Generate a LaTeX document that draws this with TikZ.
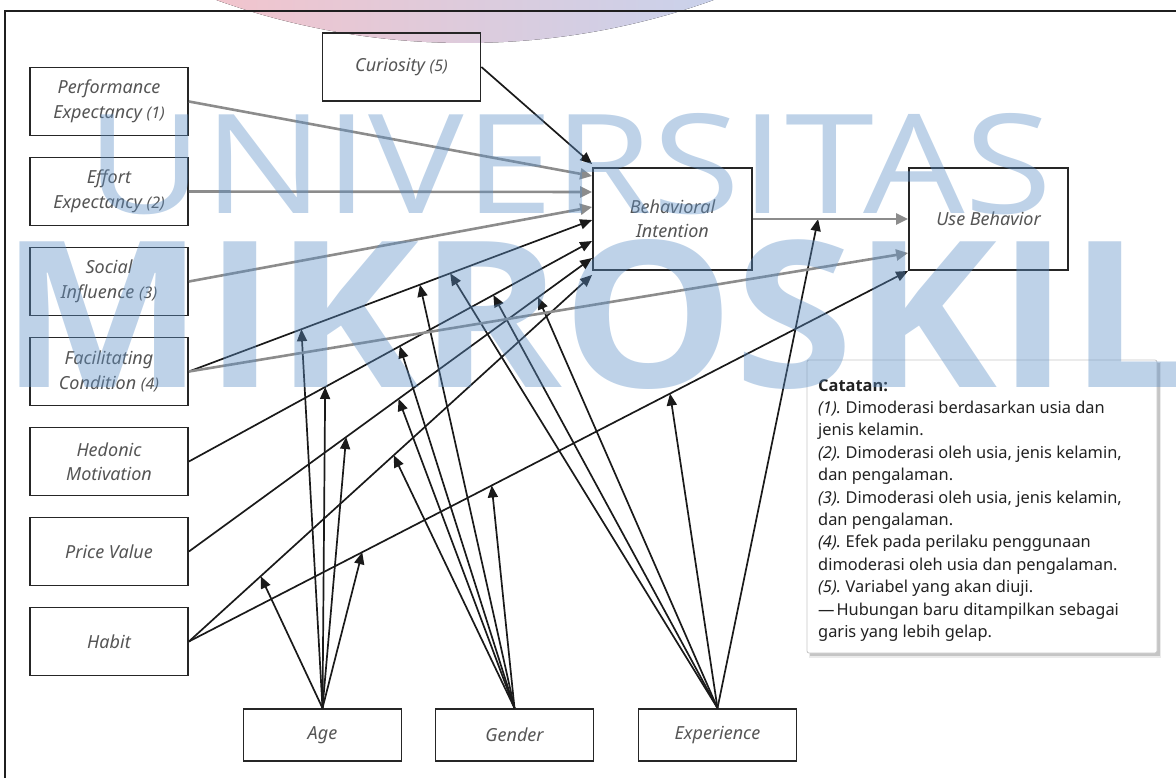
\documentclass[tikz,border=0pt]{standalone}
\usepackage{fontspec}
\setmainfont{Noto Sans}
\newfontfamily\wmfont{Open Sans}
\usetikzlibrary{arrows.meta,calc}
\definecolor{lbl}{HTML}{555555}
\definecolor{boxc}{HTML}{262626}
\definecolor{gline}{HTML}{8C8C8C}
\definecolor{bline}{HTML}{1A1A1A}
\definecolor{wmblue}{HTML}{5C8FC6}
\definecolor{pinkL}{RGB}{243,196,204}
\definecolor{pinkR}{RGB}{200,210,236}
\definecolor{notec}{HTML}{222222}
\newcommand{\nitem}[1]{\textit{#1}\kern-1pt\relax}
\begin{document}
\begin{tikzpicture}[x=1pt,y=-1pt,
  box/.style={draw=boxc, line width=1.8pt, minimum width=158pt, minimum height=68pt,
    inner sep=0pt, align=center, font=\fontsize{18}{24.5}\selectfont\itshape, text=lbl},
  garr/.style={draw=gline, line width=2.6pt, -{Triangle[length=12pt,width=11pt]}},
  barr/.style={draw=bline, line width=1.7pt, -{Triangle[length=12pt,width=10pt]}},
  notetxt/.style={anchor=base west, inner sep=0pt, font=\fontsize{16.4}{22.4}\selectfont, text=notec},
  wm/.style={anchor=south west, inner sep=0pt, text=wmblue, opacity=0.4}
]
\useasboundingbox (0,0) rectangle (1176,778);
\begin{scope}
\clip (0,0) rectangle (1176,778);
% pink arc (background)
\begin{scope}
\clip (465,-694) circle (737pt);
\fill[left color=pinkL, right color=pinkR] (200,-5) rectangle (730,50);
\end{scope}
% frame
\draw[line width=2pt, draw=black!88] (5,790) -- (5,11) -- (1190,11);

% boxes
\node[box] (cur) at (401.5,67) {Curiosity {\fontsize{16}{20}\selectfont (5)}};
\node[box] (pe) at (109,101.5) {Performance\\Expectancy {\fontsize{16}{20}\selectfont (1)}};
\node[box] (ee) at (109,191.5) {Effort\\Expectancy {\fontsize{16}{20}\selectfont (2)}};
\node[box] (si) at (109,281.5) {Social\\Influence {\fontsize{16}{20}\selectfont (3)}};
\node[box] (fc) at (109,371.5) {Facilitating\\Condition {\fontsize{16}{20}\selectfont (4)}};
\node[box] (hm) at (109,461.5) {Hedonic\\Motivation};
\node[box] (pv) at (109,551.5) {Price Value};
\node[box] (hab) at (109,641.5) {Habit};
\node[box, minimum width=159pt, minimum height=102pt] (bi) at (672.5,219) {Behavioral\\Intention};
\node[box, minimum width=159pt, minimum height=102pt] (ub) at (988.5,219) {Use Behavior};
\node[box, minimum height=52pt] (age) at (322.5,735) {Age};
\node[box, minimum height=52pt] (gen) at (514.5,735) {Gender};
\node[box, minimum height=52pt] (exp) at (717.5,735) {Experience};

% end points on BI / UB
\coordinate (biCU) at ([yshift=3pt]bi.north west);
\coordinate (biPE) at ([yshift=43pt]bi.west);
\coordinate (biEE) at ([yshift=27pt]bi.west);
\coordinate (biSI) at ([yshift=12pt]bi.west);
\coordinate (biFC) at ([yshift=-1pt]bi.west);
\coordinate (biHM) at ([yshift=-22pt]bi.west);
\coordinate (biPV) at ([yshift=-39pt]bi.west);
\coordinate (biHB) at ([yshift=-4pt]bi.south west);
\coordinate (ubFC) at ([yshift=-34pt]ub.west);

% moderation points on the paths
\path (fc.east) -- (biFC) coordinate[pos=0.279] (fcA) coordinate[pos=0.573] (fcG) coordinate[pos=0.648] (fcE);
\path (hm.east) -- (biHM) coordinate[pos=0.338] (hmA) coordinate[pos=0.523] (hmG) coordinate[pos=0.755] (hmE);
\path (pv.east) -- (biPV) coordinate[pos=0.390] (pvA) coordinate[pos=0.520] (pvG) coordinate[pos=0.866] (pvE);
\path (hab.east) -- (biHB) coordinate[pos=0.178] (hbA) coordinate[pos=0.508] (hbG);
\path (hab.east) -- (ub.south west) coordinate[pos=0.241] (huA) coordinate[pos=0.421] (huG) coordinate[pos=0.669] (huE);
\path (bi.east) -- (ub.west) coordinate[pos=0.42] (bu);

% main black connectors
\draw[barr] (cur.east) -- (biCU);
\draw[barr] (fc.east) -- (biFC);
\draw[barr] (hm.east) -- (biHM);
\draw[barr] (pv.east) -- (biPV);
\draw[barr] (hab.east) -- (biHB);
\draw[barr] (hab.east) -- (ub.south west);

% moderator arrows
\draw[barr] (age.north) -- (fcA);
\draw[barr] (age.north) -- (hmA);
\draw[barr] (age.north) -- (pvA);
\draw[barr] (age.north) -- (hbA);
\draw[barr] (age.north) -- (huA);
\draw[barr] (gen.north) -- (fcG);
\draw[barr] (gen.north) -- (hmG);
\draw[barr] (gen.north) -- (pvG);
\draw[barr] (gen.north) -- (hbG);
\draw[barr] (gen.north) -- (huG);
\draw[barr] (exp.north) -- (fcE);
\draw[barr] (exp.north) -- (hmE);
\draw[barr] (exp.north) -- (pvE);
\draw[barr] (exp.north) -- (huE);
\draw[barr] (exp.north) -- (bu);

% gray connectors
\draw[garr] (pe.east) -- (biPE);
\draw[garr] (ee.east) -- (biEE);
\draw[garr] (si.east) -- (biSI);
\draw[garr] (fc.east) -- (ubFC);
\draw[garr] (bi.east) -- (ub.west);

% note box
\fill[black, opacity=0.16] (809.5,362.5) rectangle (1160,656);
\fill[black, opacity=0.08] (808.5,361.5) rectangle (1161,657.5);
\node[draw=black!22, fill=white, line width=0.8pt, rounded corners=2pt,
  minimum width=350pt, minimum height=293pt, inner sep=0pt] (note) at (982,506.5) {};
\node[notetxt] (t0) at (818,391) {{\wmfont\bfseries Catatan:}};
\node[notetxt] (t1) at (818,413.4) {\nitem{(1).} Dimoderasi berdasarkan usia dan};
\node[notetxt] (t2) at (818,435.8) {jenis kelamin.};
\node[notetxt] (t3) at (818,458.2) {\nitem{(2).} Dimoderasi oleh usia, jenis kelamin,};
\node[notetxt] (t4) at (818,480.6) {dan pengalaman.};
\node[notetxt] (t5) at (818,503.0) {\nitem{(3).} Dimoderasi oleh usia, jenis kelamin,};
\node[notetxt] (t6) at (818,525.4) {dan pengalaman.};
\node[notetxt] (t7) at (818,547.8) {\nitem{(4).} Efek pada perilaku penggunaan};
\node[notetxt] (t8) at (818,570.2) {dimoderasi oleh usia dan pengalaman.};
\node[notetxt] (t9) at (818,592.6) {\nitem{(5).} Variabel yang akan diuji.};
\node[notetxt] (t10) at (818,615.0) {—\kern2pt\relax Hubungan baru ditampilkan sebagai};
\node[notetxt] (t11) at (818,637.4) {garis yang lebih gelap.};

% watermark overlay
\node[wm] (wmA) at (86,215) {\resizebox{966pt}{100pt}{\wmfont UNIVERSITAS}};
\node[wm] (wmB) at (0,390) {\resizebox{1190pt}{148pt}{\wmfont\bfseries MIKROSKIL}};
\end{scope}
\end{tikzpicture}
\end{document}
